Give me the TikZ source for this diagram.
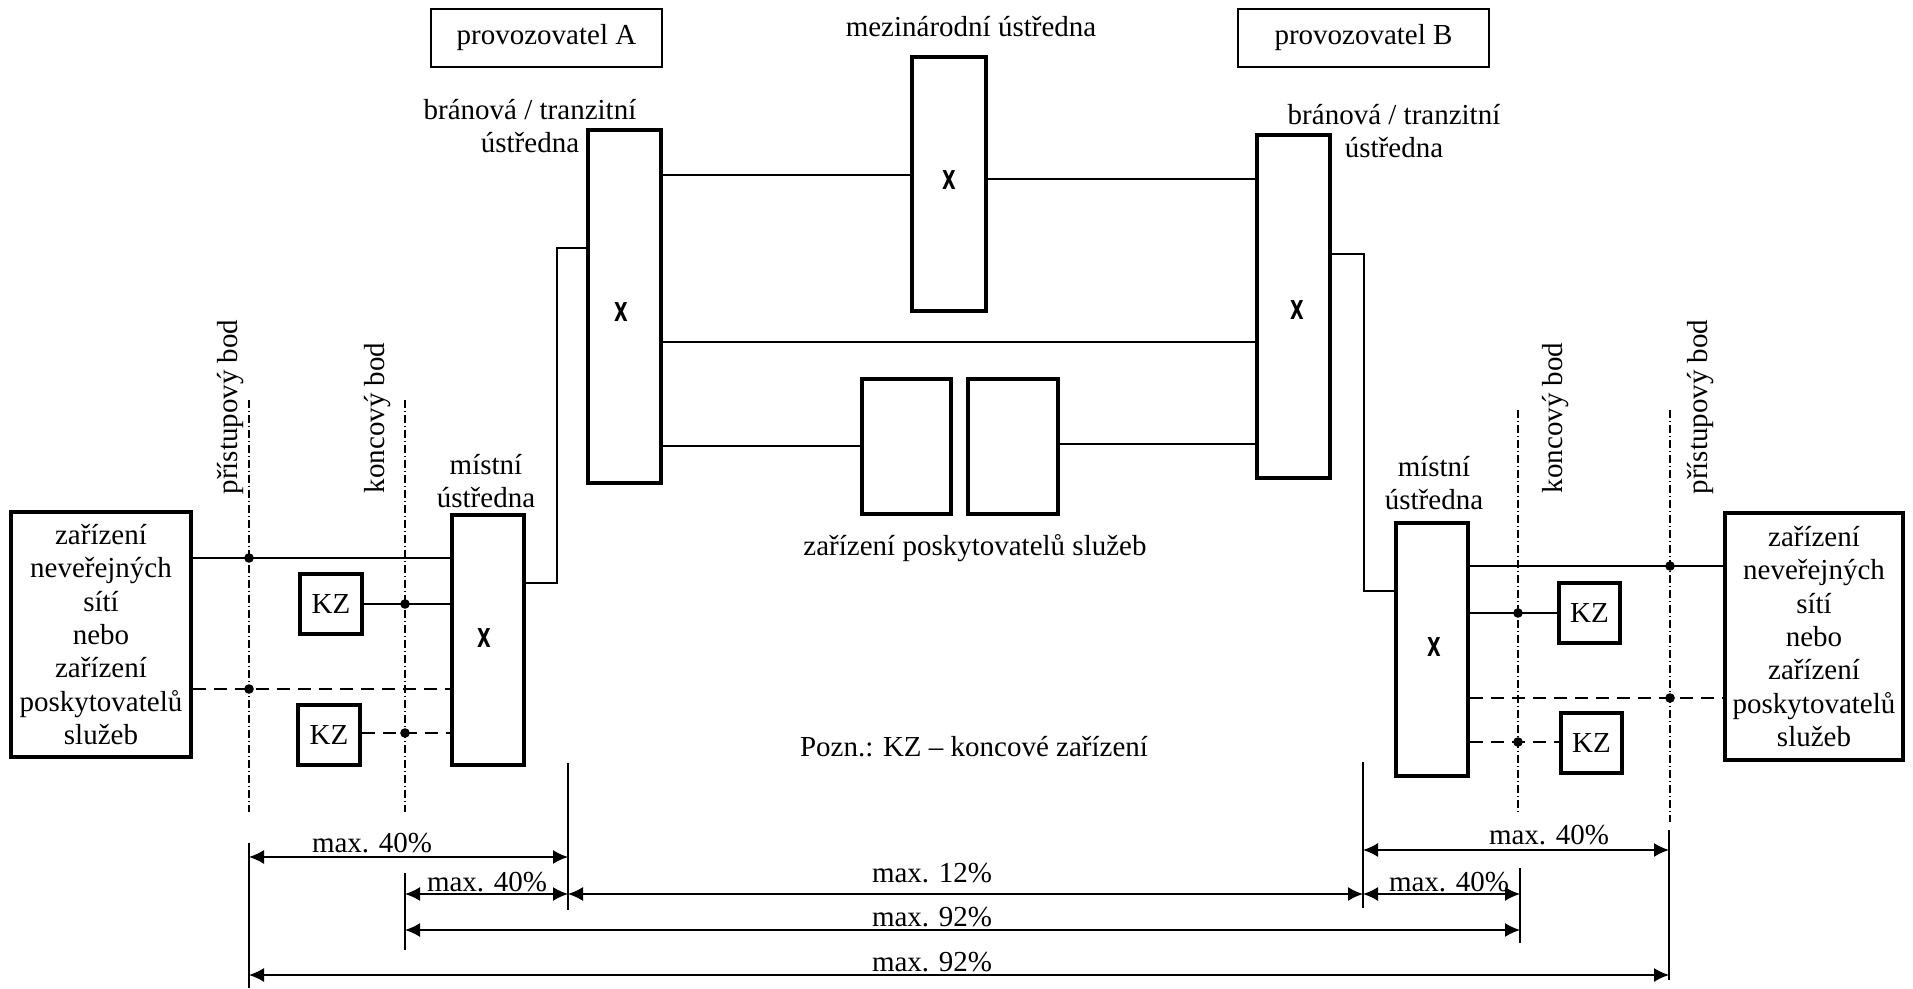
\documentclass[tikz,border=0pt]{standalone}
\usepackage{fontspec}
\setmainfont{Liberation Serif}
\newfontfamily\xsans{DejaVu Sans}
\usetikzlibrary{fit,arrows.meta}
\begin{document}
\begin{tikzpicture}[x=0.5pt,y=-0.5pt,
  every node/.style={font=\fontsize{14.5pt}{16.65pt}\selectfont},
  hbox/.style={draw, line width=1.8pt, inner sep=0pt},
  tbox/.style={draw, line width=0.8pt, inner sep=0pt},
  txt/.style={inner sep=0pt, align=center},
  xmark/.style={inner sep=0pt, font=\xsans\bfseries\fontsize{13pt}{14pt}\selectfont, xscale=0.68},
  wire/.style={line width=0.85pt},
  dwire/.style={line width=0.85pt, dash pattern=on 6.5pt off 4pt},
  ddot/.style={line width=0.6pt, dash pattern=on 4pt off 1.5pt on 0.5pt off 1.5pt},
  ext/.style={line width=0.6pt},
  dim/.style={line width=0.8pt, {Latex[length=7.5pt,width=7pt]}-{Latex[length=7.5pt,width=7pt]}},
]
\useasboundingbox (0,0) rectangle (1913,989);

% boxes
\node[hbox, fit={(11,512) (191,757)}] (lbox) {};
\node[hbox, fit={(1725,513) (1903,760)}] (rbox) {};
\node[hbox, fit={(452,515) (524,765)}] (mA) {};
\node[hbox, fit={(1396,523) (1468,776)}] (mB) {};
\node[hbox, fit={(588,130) (661,483)}] (bA) {};
\node[hbox, fit={(1257,135) (1330,478)}] (bB) {};
\node[hbox, fit={(912,57) (986,311)}] (mez) {};
\node[hbox, fit={(862,379) (951,514)}] (s1) {};
\node[hbox, fit={(968,379) (1058,514)}] (s2) {};
\node[hbox, fit={(300,574) (362,634)}] (kzL1) {};
\node[hbox, fit={(298,705) (360,765)}] (kzL2) {};
\node[hbox, fit={(1559,583) (1620,643)}] (kzR1) {};
\node[hbox, fit={(1561,713) (1622,773)}] (kzR2) {};
\node[tbox, fit={(431,9) (662,67)}] (pA) {};
\node[tbox, fit={(1238,9) (1489,67)}] (pB) {};

% box texts
\node[txt] (lboxt) at (lbox.center) {zařízení\\neveřejných\\sítí\\nebo\\zařízení\\poskytovatelů\\služeb};
\node[txt] (rboxt) at (rbox.center) {zařízení\\neveřejných\\sítí\\nebo\\zařízení\\poskytovatelů\\služeb};
\node[txt] (kzL1t) at (kzL1.center) {KZ};
\node[txt] (kzL2t) at (kzL2.center) {KZ};
\node[txt] (kzR1t) at (kzR1.center) {KZ};
\node[txt] (kzR2t) at (kzR2.center) {KZ};
\node[txt] (pAt) at (pA.center) {provozovatel A};
\node[txt] (pBt) at (pB.center) {provozovatel B};

% X marks
\node[xmark] (xmA) at (484,638) {X};
\node[xmark] (xmB) at (1434,647) {X};
\node[xmark] (xbA) at (621,312) {X};
\node[xmark] (xbB) at (1297,310) {X};
\node[xmark] (xmez) at (949,180) {X};

% labels
\node[txt] (lbA) at (530,126) {bránová / tranzitní\\ústředna};
\node[txt] (lbB) at (1394,131) {bránová / tranzitní\\ústředna};
\node[txt] (lmA) at (486,481) {místní\\ústředna};
\node[txt] (lmB) at (1434,483) {místní\\ústředna};
\node[txt] (lmez) at (971,27) {mezinárodní ústředna};
\node[txt] (lsp) at (975,548) {zařízení poskytovatelů služeb};
\node[txt] (lpozn) at (974,747) {Pozn.: KZ – koncové zařízení};
\node[txt, rotate=90] (apL) at (231,407) {přístupový bod};
\node[txt, rotate=90] (kbL) at (378,418) {koncový bod};
\node[txt, rotate=90] (kbR) at (1556,418) {koncový bod};
\node[txt, rotate=90] (apR) at (1701,407) {přístupový bod};

% dash-dot reference lines
\coordinate (apLt) at (249,400); \coordinate (apLb) at (249,812);
\coordinate (kbLt) at (405,400); \coordinate (kbLb) at (405,812);
\coordinate (kbRt) at (1518,410); \coordinate (kbRb) at (1518,813);
\coordinate (apRt) at (1670,410); \coordinate (apRb) at (1670,822);
\draw[ddot] (apLt) -- (apLb);
\draw[ddot] (kbLt) -- (kbLb);
\draw[ddot] (kbRt) -- (kbRb);
\draw[ddot] (apRt) -- (apRb);

% left access wires
\coordinate (dL1) at (249,558);
\coordinate (dL2) at (405,604);
\coordinate (dL3) at (249,689);
\coordinate (dL4) at (405,733);
\draw[wire] (lbox.east |- dL1) -- (mA.west |- dL1);
\draw[wire] (kzL1.east |- dL2) -- (mA.west |- dL2);
\draw[dwire] (lbox.east |- dL3) -- (mA.west |- dL3);
\draw[dwire] (kzL2.east |- dL4) -- (mA.west |- dL4);
\foreach \p in {dL1,dL2,dL3,dL4} \fill (\p) circle (2.4pt);

% right access wires
\coordinate (dR1) at (1670,566);
\coordinate (dR2) at (1518,613);
\coordinate (dR3) at (1670,698);
\coordinate (dR4) at (1518,742);
\draw[wire] (mB.east |- dR1) -- (rbox.west |- dR1);
\draw[wire] (mB.east |- dR2) -- (kzR1.west |- dR2);
\draw[dwire] (mB.east |- dR3) -- (rbox.west |- dR3);
\draw[dwire] (mB.east |- dR4) -- (kzR2.west |- dR4);
\foreach \p in {dR1,dR2,dR3,dR4} \fill (\p) circle (2.4pt);

% trunks
\coordinate (jA1) at (557,583); \coordinate (jA2) at (557,248);
\draw[wire] (mA.east |- jA1) -- (jA1) -- (jA2) -- (bA.west |- jA2);
\coordinate (jB1) at (1364,254); \coordinate (jB2) at (1364,591);
\draw[wire] (bB.east |- jB1) -- (jB1) -- (jB2) -- (mB.west |- jB2);
\coordinate (h1) at (700,175); \draw[wire] (bA.east |- h1) -- (mez.west |- h1);
\coordinate (h2) at (1100,179); \draw[wire] (mez.east |- h2) -- (bB.west |- h2);
\coordinate (h3) at (900,342); \draw[wire] (bA.east |- h3) -- (bB.west |- h3);
\coordinate (h4) at (700,446); \draw[wire] (bA.east |- h4) -- (s1.west |- h4);
\coordinate (h5) at (1100,444); \draw[wire] (s2.east |- h5) -- (bB.west |- h5);

% extension lines
\coordinate (e1t) at (249,843); \coordinate (e1b) at (249,988);
\coordinate (e2t) at (405,873); \coordinate (e2b) at (405,950);
\coordinate (e3t) at (568,763); \coordinate (e3b) at (568,910);
\coordinate (e4t) at (1363,762); \coordinate (e4b) at (1363,908);
\coordinate (e5t) at (1520,868); \coordinate (e5b) at (1520,943);
\coordinate (e6t) at (1669,830); \coordinate (e6b) at (1669,980);
\foreach \e in {e1,e2,e3,e4,e5,e6} \draw[ext] (\e t) -- (\e b);

% dimension arrows
\draw[dim] (e1t |- 0,857) -- (e3t |- 0,857);
\draw[dim] (e2t |- 0,894) -- (e3t |- 0,894);
\draw[dim] (e3t |- 0,894) -- (e4t |- 0,894);
\draw[dim] (e4t |- 0,894) -- (e5t |- 0,894);
\draw[dim] (e4t |- 0,850) -- (e6t |- 0,850);
\draw[dim] (e2t |- 0,930) -- (e5t |- 0,930);
\draw[dim] (e1t |- 0,975) -- (e6t |- 0,975);
\node[txt] (t1) at (372,843) {max. 40\%};
\node[txt] (t2) at (487,882) {max. 40\%};
\node[txt] (t3) at (932,873) {max. 12\%};
\node[txt] (t4) at (1449,882) {max. 40\%};
\node[txt] (t5) at (1549,835) {max. 40\%};
\node[txt] (t6) at (932,917) {max. 92\%};
\node[txt] (t7) at (932,962) {max. 92\%};
\end{tikzpicture}
\end{document}
